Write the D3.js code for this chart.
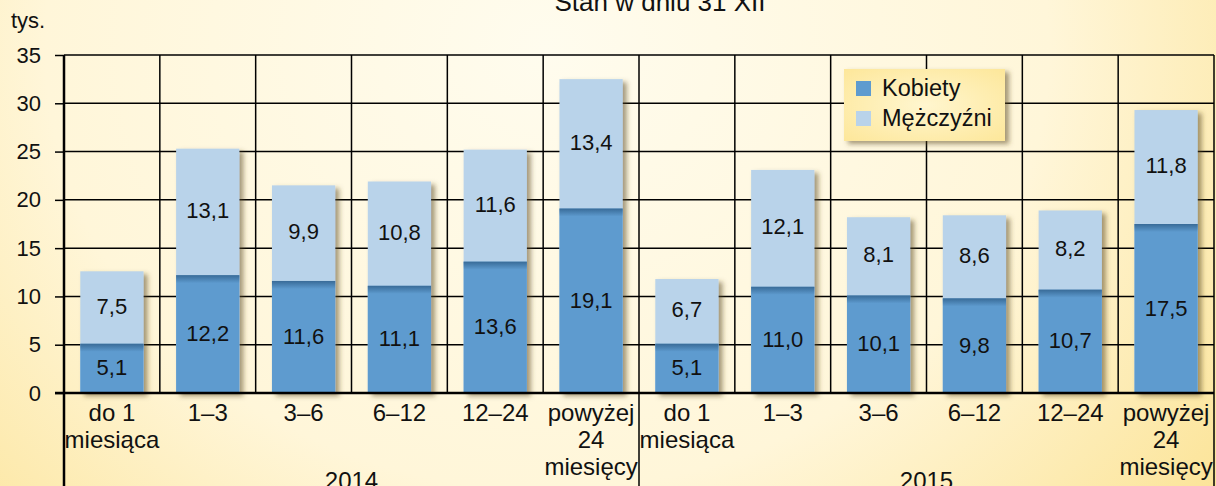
<!DOCTYPE html>
<html>
<head>
<meta charset="utf-8">
<script src="https://cdn.jsdelivr.net/npm/d3@7"></script>
<style>
  body { margin: 0; padding: 0; overflow: hidden; }
  svg { display: block; font-family: "Liberation Sans", Arial, sans-serif; }
  text { fill: #111; }
</style>
</head>
<body>
<div id="chart"></div>
<script>
// Okresy pozostawania bez pracy (w miesiącach), stan w dniu 31 XII
const years = ['2014', '2015'];
const durations = [['do 1', 'miesiąca'], ['1–3'], ['3–6'], ['6–12'], ['12–24'], ['powyżej', '24', 'miesięcy']];
const women2014 = [5.1, 12.2, 11.6, 11.1, 13.6, 19.1];
const men2014 = [7.5, 13.1, 9.9, 10.8, 11.6, 13.4];
const women2015 = [5.1, 11.0, 10.1, 9.8, 10.7, 17.5];
const men2015 = [6.7, 12.1, 8.1, 8.6, 8.2, 11.8];
const yTicks = [0, 5, 10, 15, 20, 25, 30, 35];
const seriesNames = ['Kobiety', 'Mężczyźni'];

const width = 1216, height = 486;
const margin = {top: 55, right: 2, bottom: 93, left: 64};
const colors = {women: '#5e9bcf', men: '#b9d3ea'};

// build one row per bar
const data = [];
years.forEach((yr, yi) => {
    const w = yi === 0 ? women2014 : women2015;
    const m = yi === 0 ? men2014 : men2015;
    durations.forEach((lab, i) => {
        data.push({key: yr + '-' + i, year: yr, label: lab, women: w[i], men: m[i]});
    });
});

const svg = d3.select('#chart').append('svg')
    .attr('width', width)
    .attr('height', height);

const defs = svg.append('defs');

// background gradient: saturated yellow at edges, cream in the middle
const bg = defs.append('radialGradient')
    .attr('id', 'bg')
    .attr('cx', '0.45').attr('cy', '0.1').attr('r', '0.75')
    .attr('gradientTransform', 'translate(0.45,0.1) scale(1,2.2) translate(-0.45,-0.1)');
bg.append('stop').attr('offset', '0%').attr('stop-color', '#fffcee');
bg.append('stop').attr('offset', '55%').attr('stop-color', '#fff6d9');
bg.append('stop').attr('offset', '100%').attr('stop-color', '#fbe08a');

const legendBg = defs.append('radialGradient').attr('id', 'legendBg')
    .attr('cx', '0.5').attr('cy', '0.5').attr('r', '0.7');
legendBg.append('stop').attr('offset', '0%').attr('stop-color', '#fff6cf');
legendBg.append('stop').attr('offset', '100%').attr('stop-color', '#fde79a');

const topShade = defs.append('linearGradient').attr('id', 'topShade')
    .attr('x1', 0).attr('x2', 0).attr('y1', 0).attr('y2', 1);
topShade.append('stop').attr('offset', '0%').attr('stop-color', '#2f5f8a').attr('stop-opacity', 0.8);
topShade.append('stop').attr('offset', '100%').attr('stop-color', '#2f5f8a').attr('stop-opacity', 0);

const shadow = defs.append('filter').attr('id', 'shadow')
    .attr('x', '-20%').attr('y', '-20%').attr('width', '150%').attr('height', '150%');
shadow.append('feDropShadow')
    .attr('dx', 4).attr('dy', 3).attr('stdDeviation', 2.5)
    .attr('flood-color', '#5a4a20').attr('flood-opacity', 0.55);

svg.append('rect')
    .attr('width', width).attr('height', height)
    .attr('fill', 'url(#bg)');

// scales
const x = d3.scaleBand()
    .domain(data.map(d => d.key))
    .range([margin.left, width - margin.right])
    .paddingInner(0.34)
    .paddingOuter(0.17);
const step = x.step();
const y = d3.scaleLinear()
    .domain([0, 35])
    .range([height - margin.bottom, margin.top]);

// title (cut off at top in the original)
svg.append('text')
    .attr('x', 660).attr('y', 11)
    .attr('text-anchor', 'middle')
    .style('font-size', '26px')
    .text('Stan w dniu 31 XII');

svg.append('text')
    .attr('x', 11).attr('y', 28)
    .style('font-size', '22px')
    .text('tys.');

// horizontal grid + y axis ticks
const yAxis = d3.axisLeft(y)
    .tickValues(yTicks)
    .tickSize(margin.left - 55)
    .tickPadding(14)
    .tickFormat(d3.format('d'));
const yAxisG = svg.append('g')
    .attr('transform', `translate(${margin.left},0)`)
    .call(yAxis);
yAxisG.select('.domain').remove();
yAxisG.selectAll('.tick line').attr('stroke', '#000').attr('stroke-width', 1.5);
yAxisG.selectAll('.tick text')
    .style('font-size', '22px')
    .style('font-family', '"Liberation Sans", Arial, sans-serif')
    .attr('fill', '#111');

svg.append('g').selectAll('line')
    .data(yTicks.filter(t => t > 0))
    .join('line')
    .attr('x1', margin.left).attr('x2', width - margin.right)
    .attr('y1', d => y(d)).attr('y2', d => y(d))
    .attr('stroke', '#000').attr('stroke-width', 1.5);

// vertical grid lines between categories
const bounds = d3.range(1, data.length).map(i => margin.left + i * step);
svg.append('g').selectAll('line')
    .data(bounds)
    .join('line')
    .attr('x1', d => d).attr('x2', d => d)
    .attr('y1', y(35)).attr('y2', (d, i) => i === 5 ? height : y(0))
    .attr('stroke', '#000').attr('stroke-width', 1.5);

// right frame line
svg.append('line')
    .attr('x1', width - margin.right).attr('x2', width - margin.right)
    .attr('y1', y(35)).attr('y2', height)
    .attr('stroke', '#000').attr('stroke-width', 1.5);

// bars
const bars = svg.append('g').selectAll('g')
    .data(data)
    .join('g');

bars.append('rect')
    .attr('x', d => x(d.key))
    .attr('width', x.bandwidth())
    .attr('y', d => y(d.women + d.men))
    .attr('height', d => y(0) - y(d.women + d.men))
    .attr('fill', colors.men)
    .attr('filter', 'url(#shadow)');

bars.append('rect')
    .attr('x', d => x(d.key))
    .attr('width', x.bandwidth())
    .attr('y', d => y(d.women))
    .attr('height', d => y(0) - y(d.women))
    .attr('fill', colors.women);

bars.append('rect')
    .attr('x', d => x(d.key))
    .attr('width', x.bandwidth())
    .attr('y', d => y(d.women))
    .attr('height', 8)
    .attr('fill', 'url(#topShade)');

// value labels
const fmt = v => v.toFixed(1).replace('.', ',');
bars.append('text')
    .attr('x', d => x(d.key) + x.bandwidth() / 2)
    .attr('y', d => (y(0) + y(d.women)) / 2 + 7)
    .attr('text-anchor', 'middle')
    .style('font-size', '22px')
    .text(d => fmt(d.women));
bars.append('text')
    .attr('x', d => x(d.key) + x.bandwidth() / 2)
    .attr('y', d => (y(d.women) + y(d.women + d.men)) / 2 + 6)
    .attr('text-anchor', 'middle')
    .style('font-size', '22px')
    .text(d => fmt(d.men));

// axes lines
svg.append('line')
    .attr('x1', margin.left - 9).attr('x2', width - margin.right)
    .attr('y1', y(0)).attr('y2', y(0))
    .attr('stroke', '#000').attr('stroke-width', 2.5);
svg.append('line')
    .attr('x1', margin.left).attr('x2', margin.left)
    .attr('y1', y(35)).attr('y2', height)
    .attr('stroke', '#000').attr('stroke-width', 2.5);

// category labels
const catLabels = svg.append('g').selectAll('text')
    .data(data)
    .join('text')
    .attr('text-anchor', 'middle')
    .attr('x', d => x(d.key) + x.bandwidth() / 2)
    .attr('y', y(0) + 28)
    .style('font-size', '24px');
catLabels.selectAll('tspan')
    .data(d => d.label)
    .join('tspan')
    .attr('x', function () { return d3.select(this.parentNode).attr('x'); })
    .attr('dy', (d, i) => i === 0 ? 0 : 27)
    .text(d => d);

// year labels
svg.append('g').selectAll('text')
    .data(years)
    .join('text')
    .attr('text-anchor', 'middle')
    .attr('x', (d, i) => margin.left + (i * 6 + 3) * step)
    .attr('y', height + 3)
    .style('font-size', '24px')
    .text(d => d);

// legend
const legend = svg.append('g').attr('transform', 'translate(844,69)');
legend.append('rect')
    .attr('width', 161).attr('height', 72)
    .attr('fill', 'url(#legendBg)')
    .attr('filter', 'url(#shadow)');
const li = legend.selectAll('g.item')
    .data(seriesNames)
    .join('g')
    .attr('class', 'item')
    .attr('transform', (d, i) => `translate(12,${12 + i * 30})`);
li.append('rect')
    .attr('width', 15).attr('height', 15)
    .attr('fill', (d, i) => i === 0 ? colors.women : colors.men);
li.append('text')
    .attr('x', 26).attr('y', 15)
    .style('font-size', '23.5px')
    .text(d => d);
</script>
</body>
</html>
